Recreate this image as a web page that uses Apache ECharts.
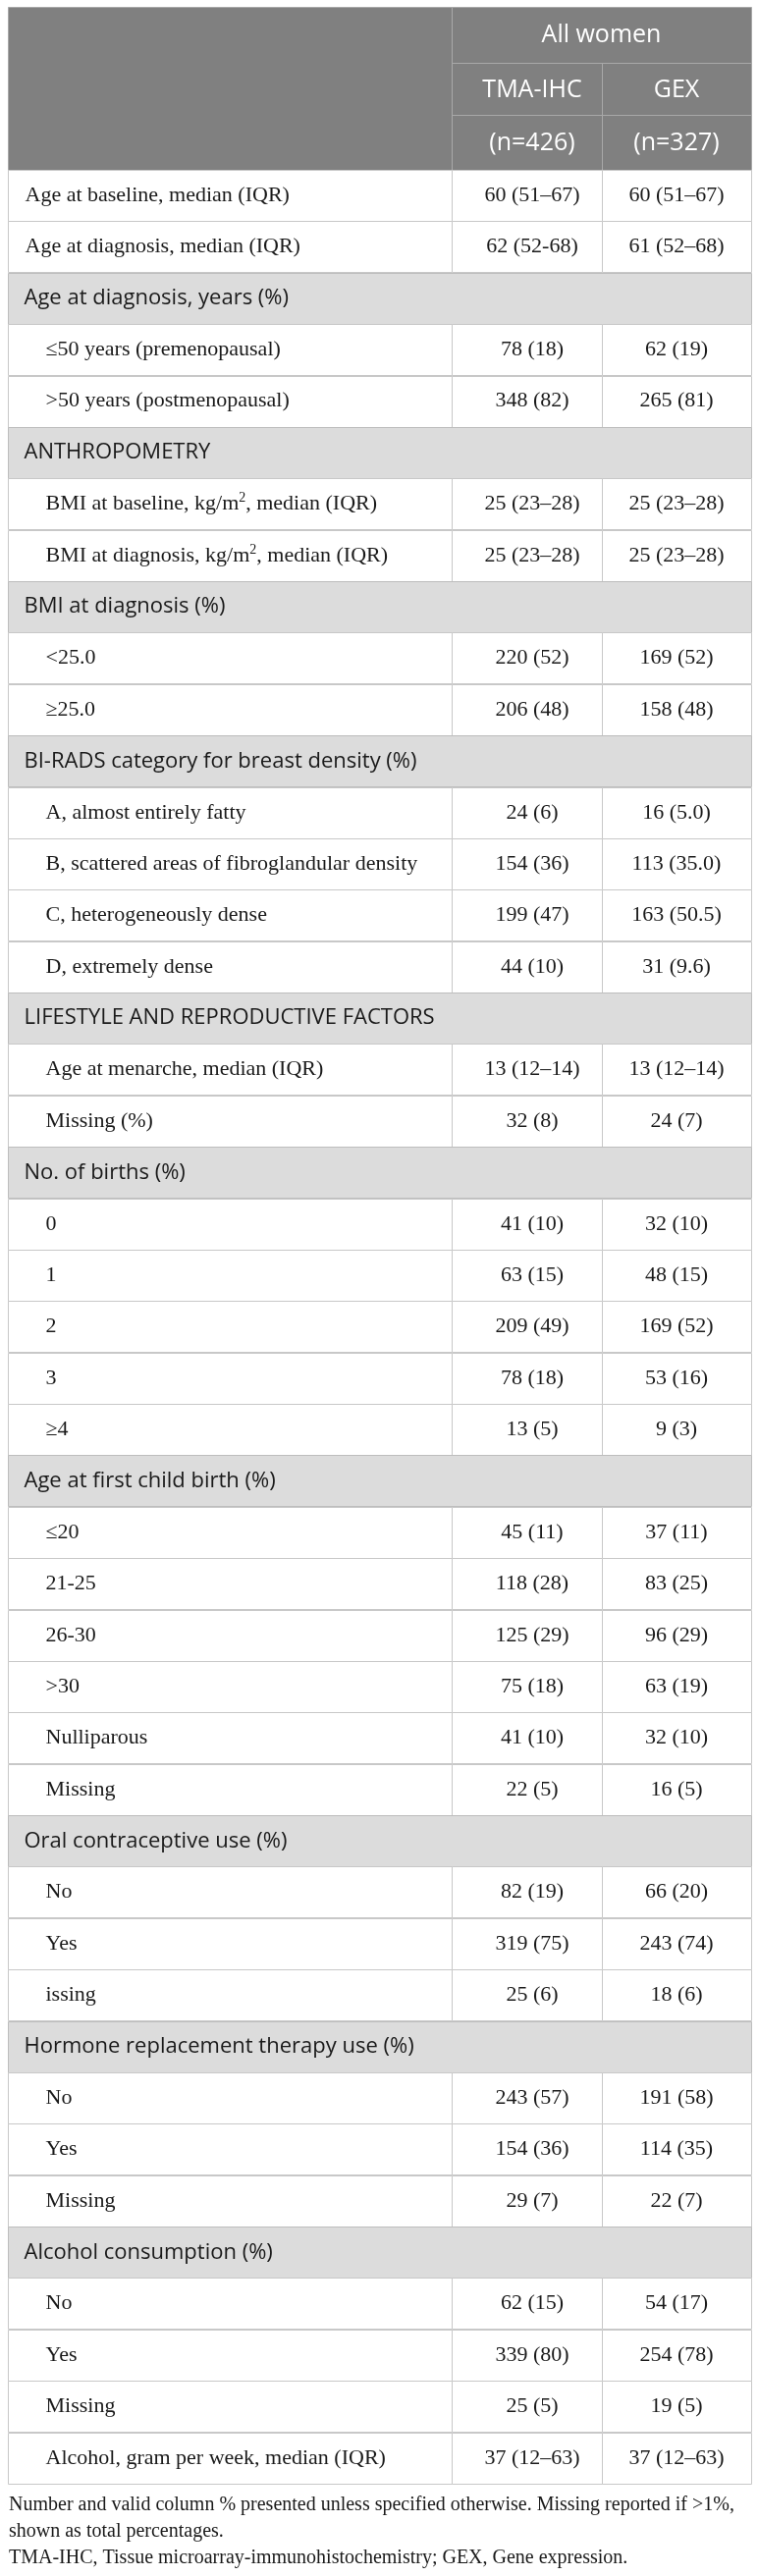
<!DOCTYPE html>
<html>
<head>
<meta charset="utf-8">
<title>Table</title>
<style>
  html, body { margin: 0; padding: 0; background: #fff; }
  #main { width: 772px; height: 2624px; }
</style>
<script src="https://cdn.jsdelivr.net/npm/echarts@6/dist/echarts.min.js"></script>
</head>
<body>
<div id="main"></div>
<script>
// ---- data ----
var groupHeader = 'All women';
var columnNames = ['TMA-IHC', 'GEX'];
var columnCounts = ['(n=426)', '(n=327)'];

// section rows have null in both value arrays
var rowLabels = [
  'Age at baseline, median (IQR)',
  'Age at diagnosis, median (IQR)',
  'Age at diagnosis, years (%)',
  '≤50 years (premenopausal)',
  '>50 years (postmenopausal)',
  'ANTHROPOMETRY',
  'BMI at baseline, kg/m², median (IQR)',
  'BMI at diagnosis, kg/m², median (IQR)',
  'BMI at diagnosis (%)',
  '<25.0',
  '≥25.0',
  'BI-RADS category for breast density (%)',
  'A, almost entirely fatty',
  'B, scattered areas of fibroglandular density',
  'C, heterogeneously dense',
  'D, extremely dense',
  'LIFESTYLE AND REPRODUCTIVE FACTORS',
  'Age at menarche, median (IQR)',
  'Missing (%)',
  'No. of births (%)',
  '0',
  '1',
  '2',
  '3',
  '≥4',
  'Age at first child birth (%)',
  '≤20',
  '21-25',
  '26-30',
  '>30',
  'Nulliparous',
  'Missing',
  'Oral contraceptive use (%)',
  'No',
  'Yes',
  'issing',
  'Hormone replacement therapy use (%)',
  'No',
  'Yes',
  'Missing',
  'Alcohol consumption (%)',
  'No',
  'Yes',
  'Missing',
  'Alcohol, gram per week, median (IQR)'
];

var tmaValues = [
  '60 (51–67)', '62 (52-68)',
  null, '78 (18)', '348 (82)',
  null, '25 (23–28)', '25 (23–28)',
  null, '220 (52)', '206 (48)',
  null, '24 (6)', '154 (36)', '199 (47)', '44 (10)',
  null, '13 (12–14)', '32 (8)',
  null, '41 (10)', '63 (15)', '209 (49)', '78 (18)', '13 (5)',
  null, '45 (11)', '118 (28)', '125 (29)', '75 (18)', '41 (10)', '22 (5)',
  null, '82 (19)', '319 (75)', '25 (6)',
  null, '243 (57)', '154 (36)', '29 (7)',
  null, '62 (15)', '339 (80)', '25 (5)', '37 (12–63)'
];

var gexValues = [
  '60 (51–67)', '61 (52–68)',
  null, '62 (19)', '265 (81)',
  null, '25 (23–28)', '25 (23–28)',
  null, '169 (52)', '158 (48)',
  null, '16 (5.0)', '113 (35.0)', '163 (50.5)', '31 (9.6)',
  null, '13 (12–14)', '24 (7)',
  null, '32 (10)', '48 (15)', '169 (52)', '53 (16)', '9 (3)',
  null, '37 (11)', '83 (25)', '96 (29)', '63 (19)', '32 (10)', '16 (5)',
  null, '66 (20)', '243 (74)', '18 (6)',
  null, '191 (58)', '114 (35)', '22 (7)',
  null, '54 (17)', '254 (78)', '19 (5)', '37 (12–63)'
];

var footnotes = [
  'Number and valid column % presented unless specified otherwise. Missing reported if >1%,',
  'shown as total percentages.',
  'TMA-IHC, Tissue microarray-immunohistochemistry; GEX, Gene expression.'
];

// ---- layout ----
var colEdges = [8, 460, 613, 765];      // x axis runs in page pixels
var valueCenters = [542, 689];
var headerTop = 7, headerRows = [64, 117, 173];
var serif = '"Liberation Serif", "Times New Roman", serif';
var sans = '"Open Sans", "Noto Sans", sans-serif';

var chart = echarts.init(document.getElementById('main'));

// first section row: rows after it are indented
var firstSection = tmaValues.indexOf(null);

function labelText(label) {
  if (label.indexOf('²') < 0) return { text: label };
  var parts = label.split('²');
  return {
    text: '{t|' + parts[0] + '}{s|2}{t|' + parts[1] + '}',
    rich: {
      t: { font: '22px ' + serif, fill: '#1a1a1a', lineHeight: 26 },
      s: { font: '14px ' + serif, fill: '#1a1a1a', verticalAlign: 'top' }
    }
  };
}

function renderRow(params, api) {
  var i = api.value(1);
  var bandH = api.size([0, 1])[1];
  var mid = api.coord([colEdges[0], i])[1];
  var top = Math.round(mid - bandH / 2) + 0.5;
  var h = Math.round(bandH);
  var xs = colEdges.map(function (e) { return Math.round(api.coord([e, i])[0]) + 0.5; });
  var children = [];

  if (tmaValues[i] === null) {
    children.push({
      type: 'rect',
      shape: { x: xs[0], y: top, width: xs[3] - xs[0], height: h },
      style: { fill: '#dcdcdc', stroke: '#bdbdbd', lineWidth: 1 }
    });
    children.push({
      type: 'text',
      style: {
        text: rowLabels[i], x: xs[0] + 16, y: mid,
        font: '22px ' + sans, fill: '#1a1a1a',
        align: 'left', verticalAlign: 'middle'
      }
    });
    return { type: 'group', children: children };
  }

  for (var c = 0; c < 3; c++) {
    children.push({
      type: 'rect',
      shape: { x: xs[c], y: top, width: xs[c + 1] - xs[c], height: h },
      style: { fill: '#fff', stroke: '#c8c8c8', lineWidth: 1 }
    });
  }
  var lt = labelText(rowLabels[i]);
  children.push({
    type: 'text',
    style: {
      text: lt.text, rich: lt.rich, x: xs[0] + (i > firstSection ? 38 : 17), y: mid,
      font: '22px ' + serif, fill: '#1a1a1a',
      align: 'left', verticalAlign: 'middle'
    }
  });
  [tmaValues[i], gexValues[i]].forEach(function (v, k) {
    children.push({
      type: 'text',
      style: {
        text: v, x: api.coord([valueCenters[k], i])[0], y: mid,
        font: '22px ' + serif, fill: '#1a1a1a',
        align: 'center', verticalAlign: 'middle'
      }
    });
  });
  return { type: 'group', children: children };
}

var headerColor = '#808080', headerLine = '#a8a8a8';
var graphics = [
  { type: 'rect', shape: { x: colEdges[0] + 0.5, y: headerTop + 0.5, width: colEdges[3] - colEdges[0], height: headerRows[2] - headerTop },
    style: { fill: headerColor, stroke: headerLine } },
  { type: 'line', shape: { x1: colEdges[1] + 0.5, y1: headerTop, x2: colEdges[1] + 0.5, y2: headerRows[2] }, style: { stroke: headerLine } },
  { type: 'line', shape: { x1: colEdges[2] + 0.5, y1: headerRows[0], x2: colEdges[2] + 0.5, y2: headerRows[2] }, style: { stroke: headerLine } },
  { type: 'line', shape: { x1: colEdges[1], y1: headerRows[0] + 0.5, x2: colEdges[3], y2: headerRows[0] + 0.5 }, style: { stroke: headerLine } },
  { type: 'line', shape: { x1: colEdges[1], y1: headerRows[1] + 0.5, x2: colEdges[3], y2: headerRows[1] + 0.5 }, style: { stroke: headerLine } },
  { type: 'text', style: { text: groupHeader, x: (colEdges[1] + colEdges[3]) / 2, y: 36, font: '25px ' + sans, fill: '#fff', align: 'center', verticalAlign: 'middle' } }
];
columnNames.forEach(function (n, k) {
  graphics.push({ type: 'text', style: { text: n, x: valueCenters[k], y: 92, font: '25px ' + sans, fill: '#fff', align: 'center', verticalAlign: 'middle' } });
  graphics.push({ type: 'text', style: { text: columnCounts[k], x: valueCenters[k], y: 146, font: '25px ' + sans, fill: '#fff', align: 'center', verticalAlign: 'middle' } });
});
footnotes.forEach(function (t, k) {
  graphics.push({ type: 'text', style: { text: t, x: 9, y: [2552, 2579, 2606][k], font: '20px ' + serif, fill: '#1a1a1a', align: 'left', verticalAlign: 'middle' } });
});

chart.setOption({
  animation: false,
  grid: { left: colEdges[0], right: 772 - colEdges[3], top: headerRows[2], bottom: 2624 - 2530 },
  xAxis: { type: 'value', min: colEdges[0], max: colEdges[3], show: false },
  yAxis: { type: 'category', data: rowLabels, inverse: true, show: false },
  graphic: graphics,
  series: [{
    type: 'custom',
    renderItem: renderRow,
    encode: { x: 0, y: 1 },
    data: rowLabels.map(function (l, i) { return [colEdges[0], i]; })
  }]
});
</script>
</body>
</html>
